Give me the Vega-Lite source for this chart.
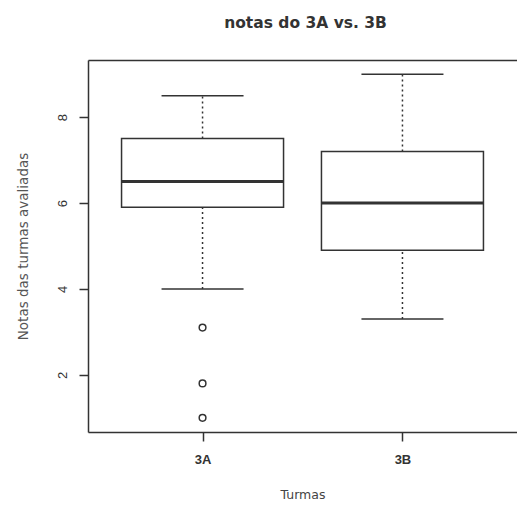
{
  "$schema": "https://vega.github.io/schema/vega-lite/v6.json",
  "width": 429,
  "height": 372,
  "autosize": {"type": "none"},
  "padding": {"left": 88, "top": 60, "right": 0, "bottom": 73},
  "background": "white",
  "title": {"text": "notas do 3A vs. 3B", "fontSize": 15.5, "fontWeight": "bold", "font": "DejaVu Sans", "color": "#333", "offset": 29, "anchor": "middle", "dx": 3},
  "config": {
    "view": {"stroke": null},
    "font": "Liberation Sans",
    "axis": {"grid": false, "domain": true, "domainColor": "#333", "domainWidth": 1.5, "tickColor": "#333", "tickWidth": 1.5, "tickSize": 9, "labelFont": "Liberation Sans", "labelFontSize": 13, "labelColor": "#333", "titleFont": "DejaVu Sans", "titleFontSize": 13, "titleFontWeight": "normal", "titleColor": "#555"}
  },
  "datasets": {
    "boxes": [
      {"turma": "3A", "min": 4.0, "q1": 5.9, "median": 6.5, "q3": 7.5, "max": 8.5},
      {"turma": "3B", "min": 3.3, "q1": 4.9, "median": 6.0, "q3": 7.2, "max": 9.0}
    ],
    "outliers": [
      {"turma": "3A", "nota": 3.1},
      {"turma": "3A", "nota": 1.8},
      {"turma": "3A", "nota": 1.0}
    ]
  },
  "resolve": {"axis": {"x": "independent"}},
  "layer": [
    {"data": {"name": "boxes"}, "mark": {"type": "rule", "strokeDash": [2, 3], "strokeWidth": 1.5, "color": "#333"},
      "encoding": {
        "x": {"field": "turma", "type": "nominal", "scale": {"type": "point", "domain": ["3A", "3B"], "padding": 0.573},
          "axis": {"title": "Turmas", "titleColor": "#444", "titleFontSize": 12.5, "labelAngle": 0, "labelPadding": 12, "titlePadding": 22, "labelFontWeight": "bold"}},
        "y": {"field": "q3", "type": "quantitative", "scale": {"domain": [0.67, 9.33], "nice": false, "zero": false},
        "axis": {"title": "Notas das turmas avaliadas", "titleFontSize": 13.5, "values": [2, 4, 6, 8], "labelAngle": -90, "labelAlign": "center", "labelBaseline": "bottom", "labelPadding": 10, "titlePadding": 26}},
        "y2": {"field": "max"}}},
    {"data": {"name": "boxes"}, "mark": {"type": "rule", "strokeDash": [2, 3], "strokeWidth": 1.5, "color": "#333"},
      "encoding": {
        "x": {"field": "turma", "type": "nominal", "axis": {"orient": "top", "title": null, "labels": false, "ticks": false}},
        "y": {"field": "min", "type": "quantitative"}, "y2": {"field": "q1"}}},
    {"data": {"name": "boxes"}, "mark": {"type": "tick", "size": 82, "thickness": 1.5, "color": "#333", "opacity": 1},
      "encoding": {"x": {"field": "turma", "type": "nominal", "axis": null}, "y": {"field": "max", "type": "quantitative"}}},
    {"data": {"name": "boxes"}, "mark": {"type": "tick", "size": 82, "thickness": 1.5, "color": "#333", "opacity": 1},
      "encoding": {"x": {"field": "turma", "type": "nominal", "axis": null}, "y": {"field": "min", "type": "quantitative"}}},
    {"data": {"name": "boxes"}, "mark": {"type": "bar", "width": 162, "fill": "white", "stroke": "#333", "strokeWidth": 1.5},
      "encoding": {"x": {"field": "turma", "type": "nominal", "axis": null}, "y": {"field": "q1", "type": "quantitative"}, "y2": {"field": "q3"}}},
    {"data": {"name": "boxes"}, "mark": {"type": "tick", "size": 162, "thickness": 3, "color": "#333", "opacity": 1},
      "encoding": {"x": {"field": "turma", "type": "nominal", "axis": null}, "y": {"field": "median", "type": "quantitative"}}},
    {"data": {"name": "outliers"}, "mark": {"type": "point", "filled": false, "size": 45, "strokeWidth": 1.5, "color": "#333", "opacity": 1},
      "encoding": {"x": {"field": "turma", "type": "nominal", "axis": null}, "y": {"field": "nota", "type": "quantitative"}}}
  ]
}
